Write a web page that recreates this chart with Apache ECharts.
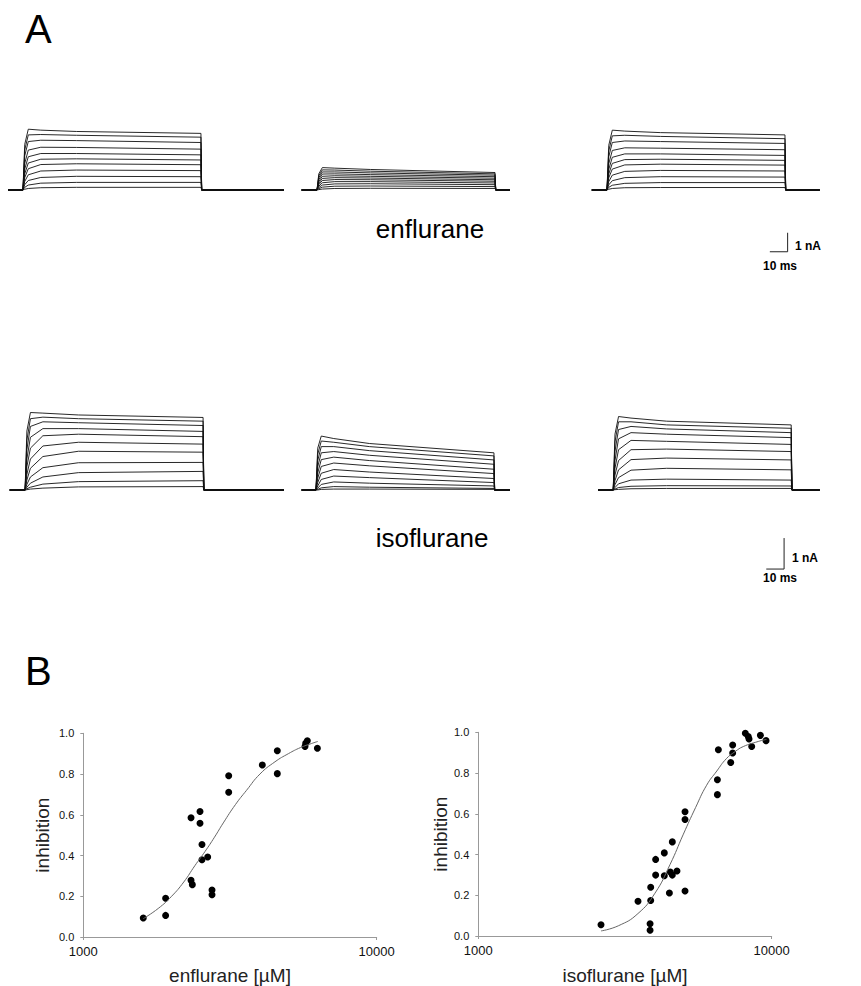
<!DOCTYPE html>
<html><head><meta charset="utf-8">
<script src="https://cdn.jsdelivr.net/npm/echarts@6/dist/echarts.min.js"></script>
<style>html,body{margin:0;padding:0;background:#fff}#c{width:861px;height:986px}</style>
</head><body><div id="c"></div><script>
// ---- Panel A: current traces (nA) sampled at these times (ms) after pulse onset ----
const pulseTimes = [1, 3, 10, 30, 100];

const enfControl = [
  [2.40, 3.20, 3.15, 3.08, 2.98],
  [2.10, 2.90, 2.92, 2.88, 2.78],
  [1.80, 2.55, 2.62, 2.60, 2.50],
  [1.40, 2.10, 2.25, 2.24, 2.15],
  [1.10, 1.75, 1.92, 1.92, 1.85],
  [0.85, 1.42, 1.62, 1.64, 1.58],
  [0.65, 1.12, 1.34, 1.38, 1.33],
  [0.45, 0.80, 1.00, 1.05, 1.02],
  [0.28, 0.50, 0.66, 0.72, 0.70],
  [0.14, 0.26, 0.36, 0.40, 0.40],
  [0.04, 0.08, 0.12, 0.14, 0.14]
];
const enfDrug = [
  [0.85, 1.18, 1.15, 1.08, 0.92],
  [0.75, 1.06, 1.05, 0.99, 0.85],
  [0.65, 0.95, 0.95, 0.90, 0.78],
  [0.55, 0.84, 0.85, 0.81, 0.70],
  [0.45, 0.72, 0.75, 0.72, 0.62],
  [0.36, 0.61, 0.65, 0.63, 0.54],
  [0.28, 0.50, 0.55, 0.54, 0.46],
  [0.20, 0.38, 0.44, 0.44, 0.37],
  [0.13, 0.26, 0.32, 0.33, 0.28],
  [0.07, 0.15, 0.20, 0.21, 0.18],
  [0.02, 0.05, 0.08, 0.09, 0.08]
];
const enfWash = [
  [2.35, 3.15, 3.10, 3.02, 2.90],
  [2.05, 2.85, 2.88, 2.82, 2.70],
  [1.75, 2.50, 2.58, 2.55, 2.45],
  [1.38, 2.08, 2.22, 2.20, 2.12],
  [1.08, 1.72, 1.90, 1.90, 1.82],
  [0.84, 1.40, 1.60, 1.62, 1.56],
  [0.64, 1.10, 1.32, 1.36, 1.31],
  [0.44, 0.78, 0.98, 1.03, 1.00],
  [0.27, 0.49, 0.65, 0.70, 0.68],
  [0.14, 0.25, 0.35, 0.39, 0.39],
  [0.04, 0.08, 0.12, 0.13, 0.13]
];
const isoControl = [
  [1.90, 2.50, 2.48, 2.42, 2.34],
  [1.60, 2.30, 2.35, 2.30, 2.22],
  [1.30, 2.05, 2.20, 2.17, 2.08],
  [1.00, 1.70, 1.98, 1.98, 1.89],
  [0.75, 1.35, 1.75, 1.80, 1.72],
  [0.50, 1.00, 1.42, 1.54, 1.48],
  [0.32, 0.70, 1.08, 1.25, 1.22],
  [0.18, 0.42, 0.72, 0.88, 0.89],
  [0.09, 0.22, 0.42, 0.56, 0.60],
  [0.04, 0.09, 0.19, 0.27, 0.30],
  [0.01, 0.03, 0.06, 0.10, 0.11]
];
const isoDrug = [
  [1.35, 1.74, 1.66, 1.50, 1.20],
  [1.15, 1.58, 1.54, 1.40, 1.10],
  [0.95, 1.40, 1.40, 1.27, 0.97],
  [0.75, 1.20, 1.24, 1.12, 0.83],
  [0.55, 0.98, 1.06, 0.95, 0.67],
  [0.38, 0.76, 0.87, 0.78, 0.53],
  [0.24, 0.54, 0.66, 0.58, 0.37],
  [0.13, 0.34, 0.45, 0.40, 0.24],
  [0.06, 0.18, 0.26, 0.22, 0.13],
  [0.02, 0.07, 0.11, 0.09, 0.05],
  [0.00, 0.02, 0.03, 0.03, 0.02]
];
const isoWash = [
  [1.80, 2.37, 2.32, 2.22, 2.10],
  [1.55, 2.20, 2.20, 2.10, 1.99],
  [1.25, 1.95, 2.05, 1.97, 1.85],
  [0.95, 1.65, 1.85, 1.80, 1.69],
  [0.70, 1.30, 1.60, 1.57, 1.47],
  [0.48, 0.95, 1.30, 1.32, 1.24],
  [0.30, 0.65, 0.98, 1.03, 0.97],
  [0.17, 0.40, 0.64, 0.70, 0.65],
  [0.08, 0.20, 0.32, 0.35, 0.32],
  [0.03, 0.08, 0.12, 0.14, 0.13],
  [0.01, 0.02, 0.04, 0.05, 0.05]
];
// recording windows (ms on a shared time line): [baseline start, pulse onset, baseline end]
const enfWindows = [[0, 8.4, 155], [165, 173.6, 282], [328, 336.5, 456]];
const isoWindows = [[1, 9.6, 155], [165, 173, 282], [331.6, 340, 456]];
// scale bars: 10 ms, 1 nA
const scaleBarMs = 10;
const scaleBarNA = 1;

// ---- Panel B: concentration-response ----
const enfConc  = [1601, 1908, 1908, 2329, 2329, 2353, 2499, 2499, 2538, 2538, 2654, 2746, 2746, 3130, 3130, 4075, 4584, 4584, 5697, 5727, 5802, 6278];
const enfInhib = [0.093, 0.190, 0.106, 0.585, 0.278, 0.257, 0.616, 0.558, 0.454, 0.379, 0.393, 0.231, 0.207, 0.792, 0.711, 0.844, 0.914, 0.802, 0.935, 0.951, 0.963, 0.927];
const enfFitConc  = [1600, 1800, 2000, 2200, 2400, 2600, 2800, 3000, 3300, 3600, 4000, 4500, 5000, 5500, 6000, 6300];
const enfFitInhib = [0.09, 0.14, 0.20, 0.27, 0.35, 0.42, 0.49, 0.56, 0.65, 0.72, 0.80, 0.86, 0.90, 0.93, 0.95, 0.96];

const isoConc  = [2620, 3502, 3869, 3869, 3850, 3850, 4022, 4022, 4305, 4305, 4480, 4513, 4584, 4584, 4755, 5065, 5065, 5065, 6580, 6530, 6530, 7250, 7362, 7362, 8130, 8320, 8370, 8547, 9150, 9565];
const isoInhib = [0.055, 0.171, 0.239, 0.174, 0.060, 0.028, 0.376, 0.299, 0.408, 0.296, 0.211, 0.314, 0.462, 0.299, 0.319, 0.610, 0.572, 0.221, 0.914, 0.767, 0.694, 0.852, 0.938, 0.898, 0.995, 0.979, 0.967, 0.930, 0.985, 0.959];
const isoFitConc  = [2620, 3000, 3500, 4000, 4500, 5000, 5500, 6000, 6500, 7000, 7500, 8000, 9000, 9600];
const isoFitInhib = [0.025, 0.05, 0.11, 0.21, 0.35, 0.50, 0.63, 0.74, 0.81, 0.87, 0.905, 0.93, 0.955, 0.965];

const logTickLabels = ['1000', '10000'];
const inhibTickLabels = ['0.0', '0.2', '0.4', '0.6', '0.8', '1.0'];

// ---------------------------------------------------------------
const FONT = "'Liberation Sans', Arial, Helvetica, sans-serif";
const chart = echarts.init(document.getElementById('c'), null, {renderer: 'svg'});

function traceSeries(sets, windows, axisIdx) {
  const out = [];
  sets.forEach((traces, k) => {
    const [b0, on, b1] = windows[k];
    traces.forEach(v => {
      const data = [[b0, 0], [on, 0]];
      pulseTimes.forEach((t, i) => data.push([on + t, v[i]]));
      data.push([on + pulseTimes[pulseTimes.length - 1] + 0.4, 0]);
      data.push([b1, 0]);
      out.push({
        type: 'line', xAxisIndex: axisIdx, yAxisIndex: axisIdx, symbol: 'none',
        silent: true, animation: false,
        lineStyle: {color: '#111', width: 0.9}, data
      });
    });
  });
  return out;
}

function scaleBar(axisIdx, t1, y1) {
  return {
    type: 'line', xAxisIndex: axisIdx, yAxisIndex: axisIdx, symbol: 'none',
    silent: true, animation: false, lineStyle: {color: '#222', width: 1},
    data: [[t1 - scaleBarMs, y1], [t1, y1], [t1, y1 + scaleBarNA]]
  };
}

const series = [
  ...traceSeries([enfControl, enfDrug, enfWash], enfWindows, 0),
  ...traceSeries([isoControl, isoDrug, isoWash], isoWindows, 1),
  scaleBar(0, 438, -3.25),
  scaleBar(1, 436, -2.55),
  {type: 'line', xAxisIndex: 2, yAxisIndex: 2, symbol: 'none', smooth: true, silent: true,
   lineStyle: {color: '#666', width: 1}, data: enfFitConc.map((c, i) => [c, enfFitInhib[i]])},
  {type: 'scatter', xAxisIndex: 2, yAxisIndex: 2, symbolSize: 7, itemStyle: {color: '#000', opacity: 1},
   data: enfConc.map((c, i) => [c, enfInhib[i]])},
  {type: 'line', xAxisIndex: 3, yAxisIndex: 3, symbol: 'none', smooth: true, silent: true,
   lineStyle: {color: '#666', width: 1}, data: isoFitConc.map((c, i) => [c, isoFitInhib[i]])},
  {type: 'scatter', xAxisIndex: 3, yAxisIndex: 3, symbolSize: 7, itemStyle: {color: '#000', opacity: 1},
   data: isoConc.map((c, i) => [c, isoInhib[i]])}
];

function logAxis(gridIdx, name, gap) {
  return {
    type: 'log', logBase: 10, gridIndex: gridIdx, min: 1000, max: 10000,
    name, nameLocation: 'middle', nameGap: gap,
    nameTextStyle: {fontSize: 19, color: '#222', fontFamily: FONT},
    axisLine: {lineStyle: {color: '#999', width: 1}},
    axisTick: {show: true, length: 3, lineStyle: {color: '#999'}},
    axisLabel: {fontSize: 13, color: '#111', fontFamily: FONT, margin: 8,
      formatter: v => '{t|' + (logTickLabels[Math.round(Math.log10(v)) - 3] || '') + '}',
      rich: {t: {fontSize: 13, color: '#111', fontFamily: FONT}}},
    splitLine: {show: false}
  };
}
function inhibAxis(gridIdx, gap) {
  return {
    type: 'value', gridIndex: gridIdx, min: 0, max: 1, interval: 0.2,
    name: 'inhibition', nameLocation: 'middle', nameGap: gap, nameRotate: 90,
    nameTextStyle: {fontSize: 19, color: '#222', fontFamily: FONT},
    axisLine: {show: true, lineStyle: {color: '#999', width: 1}},
    axisTick: {show: true, length: 3, lineStyle: {color: '#999'}},
    axisLabel: {fontSize: 11, color: '#111', fontFamily: FONT, margin: 9,
      formatter: v => inhibTickLabels[Math.round(v * 5)]},
    splitLine: {show: false}
  };
}

const hiddenX = i => ({type: 'value', gridIndex: i, min: 0, max: 475, show: false});

chart.setOption({
  animation: false,
  backgroundColor: '#fff',
  grid: [
    {left: 8, top: 114, width: 845.5, height: 152},
    {left: 8, top: 397, width: 845.5, height: 186},
    {left: 83.3, top: 733.3, width: 293.4, height: 205},
    {left: 478.3, top: 732.3, width: 293.4, height: 205}
  ],
  xAxis: [hiddenX(0), hiddenX(1),
    logAxis(2, 'enflurane [µM]', 29), logAxis(3, 'isoflurane [µM]', 30)],
  yAxis: [
    {type: 'value', gridIndex: 0, min: -4, max: 4, show: false},
    {type: 'value', gridIndex: 1, min: -3, max: 3, show: false},
    inhibAxis(2, 31), inhibAxis(3, 23)
  ],
  graphic: [
    {type: 'text', x: 25, y: 29, style: {text: 'A', font: '40px ' + FONT, fill: '#000', textAlign: 'left', textVerticalAlign: 'middle', verticalAlign: 'middle'}},
    {type: 'text', x: 25, y: 671, style: {text: 'B', font: '40px ' + FONT, fill: '#000', textAlign: 'left', textVerticalAlign: 'middle', verticalAlign: 'middle'}},
    {type: 'text', x: 430, y: 229, style: {text: 'enflurane', font: '26px ' + FONT, fill: '#000', align: 'center', textAlign: 'center', verticalAlign: 'middle'}},
    {type: 'text', x: 432, y: 538, style: {text: 'isoflurane', font: '26px ' + FONT, fill: '#000', align: 'center', textAlign: 'center', verticalAlign: 'middle'}},
    {type: 'text', x: 795, y: 246, style: {text: '1 nA', font: 'bold 12px ' + FONT, fill: '#000', verticalAlign: 'middle'}},
    {type: 'text', x: 763, y: 266, style: {text: '10 ms', font: 'bold 12px ' + FONT, fill: '#000', verticalAlign: 'middle'}},
    {type: 'text', x: 792, y: 558, style: {text: '1 nA', font: 'bold 12px ' + FONT, fill: '#000', verticalAlign: 'middle'}},
    {type: 'text', x: 763, y: 578, style: {text: '10 ms', font: 'bold 12px ' + FONT, fill: '#000', verticalAlign: 'middle'}}
  ],
  series
});
</script></body></html>
